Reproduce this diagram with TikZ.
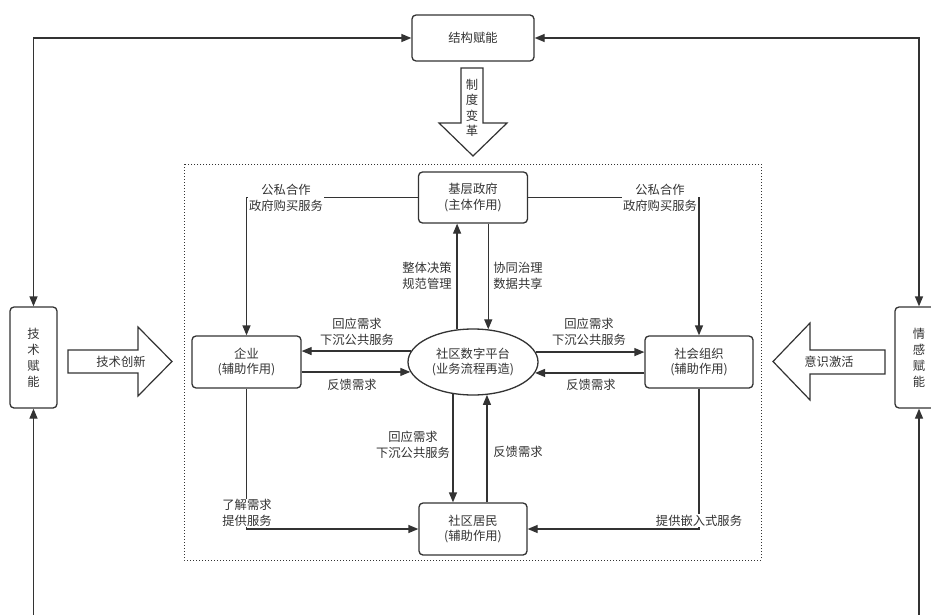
\documentclass[tikz,border=0pt]{standalone}
\usepackage{fontspec}
\setmainfont{Noto Sans CJK SC}
\usetikzlibrary{arrows.meta,shapes.geometric}
\definecolor{ln}{HTML}{333333}
\definecolor{tx}{HTML}{333333}
\begin{document}
\begin{tikzpicture}[x=1pt,y=-1pt,
  every node/.style={font=\fontsize{12.3}{15.5}\selectfont, text=tx},
  box/.style={draw=ln, line width=1.3pt, rounded corners=4pt, fill=white, align=center, inner sep=0pt},
  vbox/.style={box, font=\fontsize{12.3}{16}\selectfont},
  lbl/.style={align=center, inner sep=1pt},
  lblw/.style={align=center, inner sep=1pt, fill=white},
  con/.style={draw=ln, line width=1.3pt},
  arr/.style={con, -{Triangle[length=10pt,width=8pt]}},
  darr/.style={con, {Triangle[length=10pt,width=8pt]}-{Triangle[length=10pt,width=8pt]}},
  blk/.style={draw=ln, line width=1.2pt, fill=white, line join=miter},
]
\useasboundingbox (0,0) rectangle (931,615);
\fill[white] (0,0) rectangle (931,615);

% dotted frame
\draw[dotted, draw=ln, line width=1pt] (184,164) rectangle (761,560);

% nodes
\node[box, minimum width=122pt, minimum height=46pt] (jg) at (473,38) {结构赋能};
\node[box, minimum width=109pt, minimum height=51pt] (gov) at (473,197.5) {基层政府\\(主体作用)};
\node[box, minimum width=109pt, minimum height=52pt] (qy) at (246.5,362) {企业\\(辅助作用)};
\node[box, minimum width=108pt, minimum height=52pt] (sh) at (699,362) {社会组织\\(辅助作用)};
\node[draw=ln, line width=1.3pt, ellipse, minimum width=130pt, minimum height=66pt, inner sep=0pt, fill=white, align=center] (pt) at (473,362) {社区数字平台\\(业务流程再造)};
\node[box, minimum width=108pt, minimum height=52pt] (jm) at (473,529) {社区居民\\(辅助作用)};
\node[vbox, minimum width=47pt, minimum height=101pt] (js) at (33.5,357.5) {技\\术\\赋\\能};
\node[vbox, minimum width=48pt, minimum height=101pt] (qg) at (919,357.5) {情\\感\\赋\\能};

% block arrows
\draw[blk] (461,68) -- (483,68) -- (483,123) -- (507,123) -- (473,156) -- (439,123) -- (461,123) -- cycle;
\node[lbl, font=\fontsize{12.3}{15.5}\selectfont] (zd) at (472,108) {制\\度\\变\\革};
\draw[blk] (68,350) -- (138,350) -- (138,327) -- (172,361.5) -- (138,396) -- (138,373) -- (68,373) -- cycle;
\node[lbl] (jscx) at (121,362) {技术创新};
\draw[blk] (885,350) -- (810,350) -- (810,323) -- (773,361.5) -- (810,400) -- (810,374) -- (885,374) -- cycle;
\node[lbl] (ysjh) at (829,362) {意识激活};

% outer connectors
\draw[darr] (jg.west) -| (js.north);
\draw[darr] (jg.east) -| (qg.north);
\coordinate (jsb) at (33.5,640);
\coordinate (qgb) at (919,640);
\draw[arr] (jsb) -- (js.south);
\draw[arr] (qgb) -- (qg.south);

% inner connectors
\draw[arr] (gov.west) -| (qy.north);
\draw[arr] (gov.east) -| (sh.north);
\draw[arr] (pt.116.6) -- (pt.116.6 |- gov.south);
\draw[arr] (gov.south -| pt.65) -- (pt.65);
\draw[arr] (pt.170.8) -- (pt.170.8 -| qy.east);
\draw[arr] (qy.east |- pt.189.2) -- (pt.189.2);
\draw[arr] (pt.9.2) -- (pt.9.2 -| sh.west);
\draw[arr] (sh.west |- pt.350.8) -- (pt.350.8);
\draw[arr] (pt.238.9) -- (pt.238.9 |- jm.north);
\draw[arr] (jm.north -| pt.293.5) -- (pt.293.5);
\draw[arr] (qy.south) |- (jm.west);
\draw[arr] (sh.south) |- (jm.east);

% labels
\node[lblw] (l1) at (286,198) {公私合作\\政府购买服务};
\node[lblw] (l2) at (660,198) {公私合作\\政府购买服务};
\node[lbl] (l3) at (427,276) {整体决策\\规范管理};
\node[lbl] (l4) at (518,276) {协同治理\\数据共享};
\node[lbl] (l5) at (357,332) {回应需求\\下沉公共服务};
\node[lbl] (l6) at (352,385) {反馈需求};
\node[lbl] (l7) at (589,332) {回应需求\\下沉公共服务};
\node[lbl] (l8) at (591,385) {反馈需求};
\node[lbl] (l9) at (413,445) {回应需求\\下沉公共服务};
\node[lbl] (l10) at (518,452) {反馈需求};
\node[lblw] (l11) at (247,513) {了解需求\\提供服务};
\node[lblw] (l12) at (699,520.5) {提供嵌入式服务};
\end{tikzpicture}
\end{document}
